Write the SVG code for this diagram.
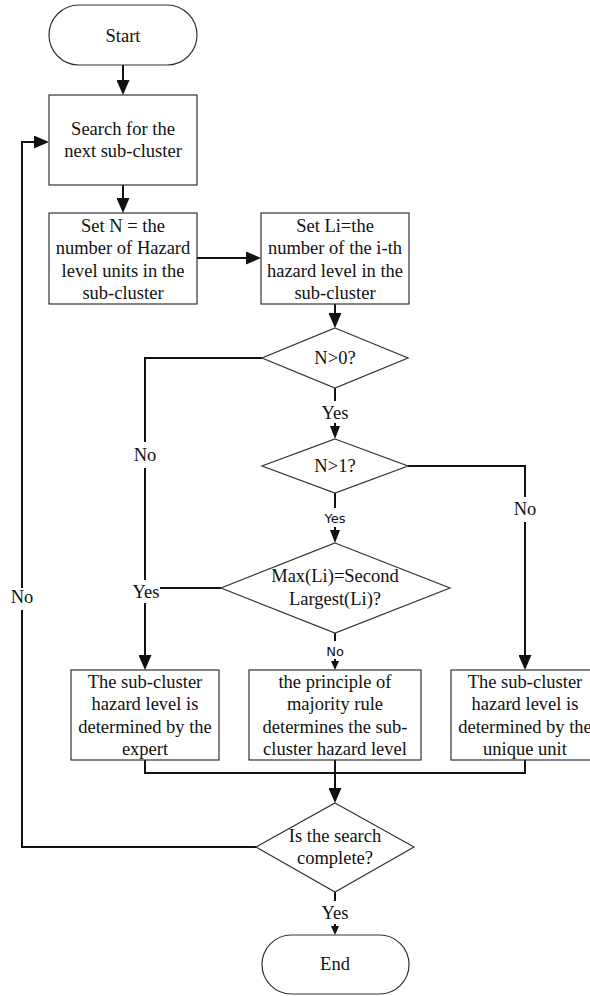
<svg xmlns="http://www.w3.org/2000/svg" width="590" height="996" viewBox="0 0 590 996">
<style>
.shape{fill:#fff;stroke:#333;stroke-width:1.2}
.t{font-family:"Liberation Serif","Times New Roman",serif;font-size:18.5px;fill:#111;text-anchor:middle}
.s{font-family:"DejaVu Sans",Verdana,sans-serif;font-size:13px;fill:#111;text-anchor:middle}
.c{fill:none;stroke:#111;stroke-width:2}
.aL{marker-end:url(#arrL)}
.aM{marker-end:url(#arrM)}
.aS{marker-end:url(#arrS)}
</style>
<defs>
<marker id="arrL" markerUnits="userSpaceOnUse" markerWidth="15" markerHeight="13" refX="0" refY="6.5" orient="auto"><path d="M0,0 L15,6.5 L0,13 z" fill="#111"/></marker>
<marker id="arrM" markerUnits="userSpaceOnUse" markerWidth="13" markerHeight="10" refX="0" refY="5" orient="auto"><path d="M0,0 L13,5 L0,10 z" fill="#111"/></marker>
<marker id="arrS" markerUnits="userSpaceOnUse" markerWidth="9" markerHeight="8" refX="0" refY="4" orient="auto"><path d="M0,0 L9,4 L0,8 z" fill="#111"/></marker>
</defs>
<rect width="590" height="996" fill="#fff"/>

<g id="connectors">
<path class="c aL" d="M123,65 V80"/>
<path class="c aL" d="M123,185 V198"/>
<path class="c aL" d="M197,258 H246"/>
<path class="c aL" d="M335,304 V313"/>
<path class="c" d="M335,388 V401"/>
<path class="c aM" d="M335,423 V426"/>
<path class="c" d="M335,493 V508"/>
<path class="c aM" d="M335,527 V530"/>
<path class="c" d="M262,358 H145 V442"/>
<path class="c" d="M145,468 V580"/>
<path class="c aL" d="M145,603 V655"/>
<path class="c" d="M221,588 H160"/>
<path class="c" d="M408,466 H525 V497"/>
<path class="c aL" d="M525,522 V655"/>
<path class="c" d="M335,633 V641"/>
<path class="c aS" d="M335,659 V661"/>
<path class="c" d="M145,760 V773 H525 V760"/>
<path class="c aL" d="M335,760 V788"/>
<path class="c" d="M335,892 V901"/>
<path class="c aS" d="M335,924 V926"/>
<path class="c" d="M256,847 H22 V610"/>
<path class="c aL" d="M22,588 V142 H34"/>
<text class="t" x="335" y="419">Yes</text>
<text class="t" x="145" y="461">No</text>
<text class="t" x="525" y="515">No</text>
<text class="s" x="335" y="523">Yes</text>
<text class="t" x="146" y="598">Yes</text>
<text class="t" x="22" y="603">No</text>
<text class="s" x="335" y="656">No</text>
<text class="t" x="335" y="919">Yes</text>
</g>

<g id="start">
<rect class="shape" x="49" y="5" width="148" height="60" rx="30"/>
<text class="t" x="123" y="42">Start</text>
</g>

<g id="search">
<rect class="shape" x="49" y="95" width="148" height="90"/>
<text class="t" x="123" y="135">Search for the</text>
<text class="t" x="123" y="157">next sub-cluster</text>
</g>

<g id="setN">
<rect class="shape" x="49" y="213" width="148" height="91"/>
<text class="t" x="123" y="232">Set N = the</text>
<text class="t" x="123" y="254">number of Hazard</text>
<text class="t" x="123" y="277">level units in the</text>
<text class="t" x="123" y="299">sub-cluster</text>
</g>

<g id="setLi">
<rect class="shape" x="261" y="213" width="148" height="91"/>
<text class="t" x="335" y="232">Set Li=the</text>
<text class="t" x="335" y="254">number of the i-th</text>
<text class="t" x="335" y="277">hazard level in the</text>
<text class="t" x="335" y="299">sub-cluster</text>
</g>

<g id="nGt0">
<polygon class="shape" points="335,328 408,358 335,388 262,358"/>
<text class="t" x="335" y="364">N&gt;0?</text>
</g>

<g id="nGt1">
<polygon class="shape" points="335,439 408,466 335,493 262,466"/>
<text class="t" x="335" y="472">N&gt;1?</text>
</g>

<g id="maxEq">
<polygon class="shape" points="335,543 450,588 335,633 221,588"/>
<text class="t" x="335" y="582">Max(Li)=Second</text>
<text class="t" x="335" y="605">Largest(Li)?</text>
</g>

<g id="expert">
<rect class="shape" x="71" y="670" width="148" height="90"/>
<text class="t" x="145" y="688">The sub-cluster</text>
<text class="t" x="145" y="710">hazard level is</text>
<text class="t" x="145" y="733">determined by the</text>
<text class="t" x="145" y="755">expert</text>
</g>

<g id="majority">
<rect class="shape" x="249" y="670" width="172" height="90"/>
<text class="t" x="335" y="688">the principle of</text>
<text class="t" x="335" y="710">majority rule</text>
<text class="t" x="335" y="733">determines the sub-</text>
<text class="t" x="335" y="755">cluster hazard level</text>
</g>

<g id="unique">
<rect class="shape" x="451" y="670" width="148" height="90"/>
<text class="t" x="525" y="688">The sub-cluster</text>
<text class="t" x="525" y="710">hazard level is</text>
<text class="t" x="525" y="733">determined by the</text>
<text class="t" x="525" y="755">unique unit</text>
</g>

<g id="complete">
<polygon class="shape" points="335,803 414,847 335,892 256,847"/>
<text class="t" x="335" y="842">Is the search</text>
<text class="t" x="335" y="864">complete?</text>
</g>

<g id="end">
<rect class="shape" x="262" y="935" width="147" height="59" rx="29.5"/>
<text class="t" x="335" y="970">End</text>
</g>
</svg>
